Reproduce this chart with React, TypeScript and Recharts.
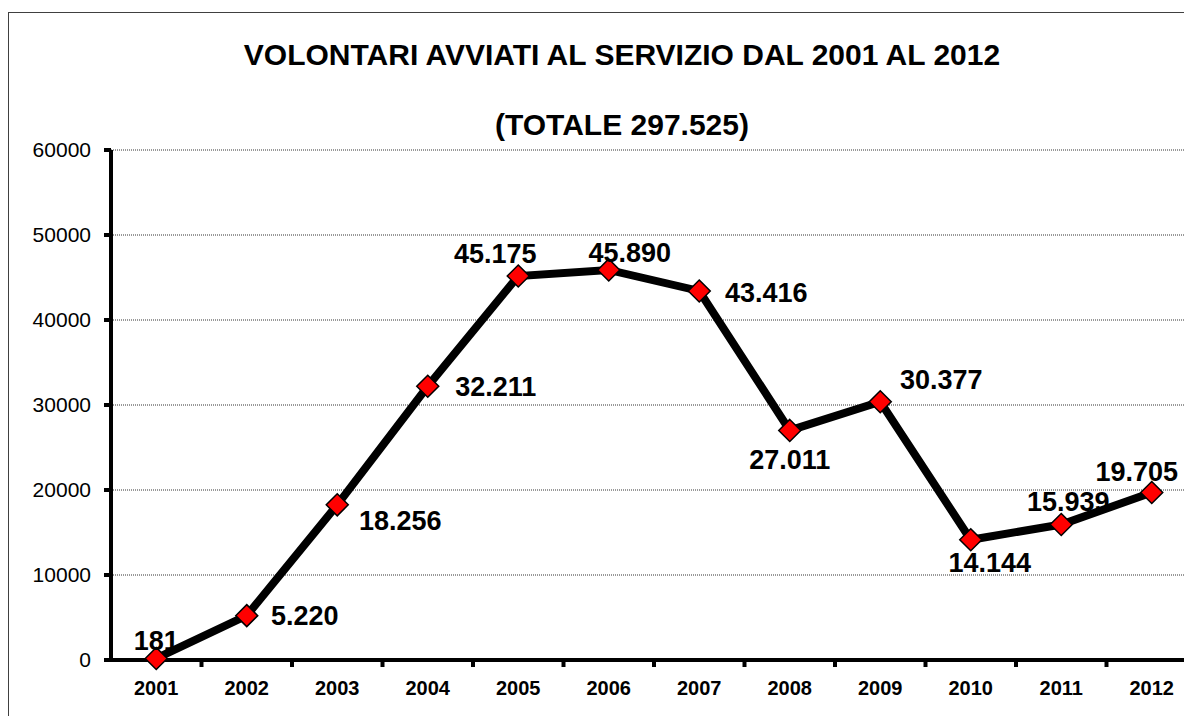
import { LineChart, Line, XAxis, YAxis, CartesianGrid, LabelList } from "recharts";

const years = ["2001", "2002", "2003", "2004", "2005", "2006", "2007", "2008", "2009", "2010", "2011", "2012"];
const volontari = [181, 5220, 18256, 32211, 45175, 45890, 43416, 27011, 30377, 14144, 15939, 19705];
const yTicks = [0, 10000, 20000, 30000, 40000, 50000, 60000];

// where each value label sits relative to its marker (dx, dy)
const labelOffsets: [number, number][] = [
  [0, -17], [58, 0], [63, 16], [68, 1], [-23, -22], [21, -17],
  [67, 2], [0, 30], [61, -22], [19, 23], [7, -23], [-15, -21],
];

const data = years.map((year, i) => ({ year, value: volontari[i] }));

const FONT = '"Liberation Sans", Arial, sans-serif';
const CHART_W = 1240;
const CHART_H = 716;
const PLOT_LEFT = 111;
const PLOT_RIGHT = 1197;
const PLOT_TOP = 150;
const PLOT_BOTTOM = 660;
const BAND = (PLOT_RIGHT - PLOT_LEFT) / years.length;

const fmt = (v: number) => v.toLocaleString("de-DE");

const Diamond = (props: any) => {
  const { cx, cy, index } = props;
  if (cx == null || cy == null) return null;
  const r = 11;
  return (
    <polygon
      key={`d-${index}`}
      points={`${cx},${cy - r} ${cx + r},${cy} ${cx},${cy + r} ${cx - r},${cy}`}
      fill="#ff0000"
      stroke="#000"
      strokeWidth={1.5}
    />
  );
};

const ValueLabel = (props: any) => {
  const { x, y, value, index } = props;
  const [dx, dy] = labelOffsets[index] ?? [0, -20];
  return (
    <text
      x={x + dx}
      y={y + dy}
      textAnchor="middle"
      dominantBaseline="central"
      fontFamily={FONT}
      fontWeight="bold"
      fontSize={27}
      fill="#000"
    >
      {fmt(value)}
    </text>
  );
};

const YearTick = (props: any) => {
  const { x, payload } = props;
  const right = x + BAND / 2;
  return (
    <g>
      <line x1={right} y1={PLOT_BOTTOM} x2={right} y2={PLOT_BOTTOM + 7} stroke="#000" strokeWidth={4} />
      <text
        x={x}
        y={PLOT_BOTTOM + 28}
        textAnchor="middle"
        dominantBaseline="central"
        fontFamily={FONT}
        fontWeight="bold"
        fontSize={20}
        fill="#000"
      >
        {payload.value}
      </text>
    </g>
  );
};

const titleStyle = {
  position: "absolute" as const,
  left: 0,
  width: 1244,
  textAlign: "center" as const,
  fontFamily: FONT,
  fontWeight: "bold" as const,
  fontSize: 30,
  lineHeight: "36px",
  color: "#000",
};

export default function App() {
  return (
    <div
      style={{
        position: "absolute",
        left: 0,
        top: 0,
        width: 1184,
        height: 716,
        overflow: "hidden",
        background: "#fff",
      }}
    >
      <div
        style={{
          position: "absolute",
          left: 8,
          top: 12,
          width: 1300,
          height: 800,
          borderLeft: "1px solid #404040",
          borderTop: "1px solid #404040",
        }}
      />
      <div style={{ ...titleStyle, top: 37 }}>VOLONTARI AVVIATI AL SERVIZIO DAL 2001 AL 2012</div>
      <div style={{ ...titleStyle, top: 107 }}>(TOTALE 297.525)</div>
      <div style={{ position: "absolute", left: 0, top: 0 }}>
        <LineChart
          width={CHART_W}
          height={CHART_H}
          data={data}
          margin={{ top: PLOT_TOP, right: CHART_W - PLOT_RIGHT, bottom: 0, left: 0 }}
        >
          <CartesianGrid vertical={false} stroke="#333" strokeWidth={1} strokeDasharray="1 1" />
          <XAxis
            dataKey="year"
            padding={{ left: BAND / 2, right: BAND / 2 }}
            axisLine={{ stroke: "#000", strokeWidth: 4 }}
            tickLine={false}
            tick={<YearTick />}
            interval={0}
            height={CHART_H - PLOT_BOTTOM}
          />
          <YAxis
            domain={[0, 60000]}
            ticks={yTicks}
            width={PLOT_LEFT}
            axisLine={{ stroke: "#000", strokeWidth: 4 }}
            tickLine={{ stroke: "#000", strokeWidth: 4 }}
            tickSize={7}
            tickMargin={13}
            tick={{ fontFamily: FONT, fontSize: 21, fill: "#000" }}
          />
          <Line
            type="linear"
            dataKey="value"
            stroke="#000"
            strokeWidth={8}
            dot={<Diamond />}
            activeDot={false}
            isAnimationActive={false}
          >
            <LabelList dataKey="value" content={<ValueLabel />} />
          </Line>
        </LineChart>
      </div>
    </div>
  );
}
